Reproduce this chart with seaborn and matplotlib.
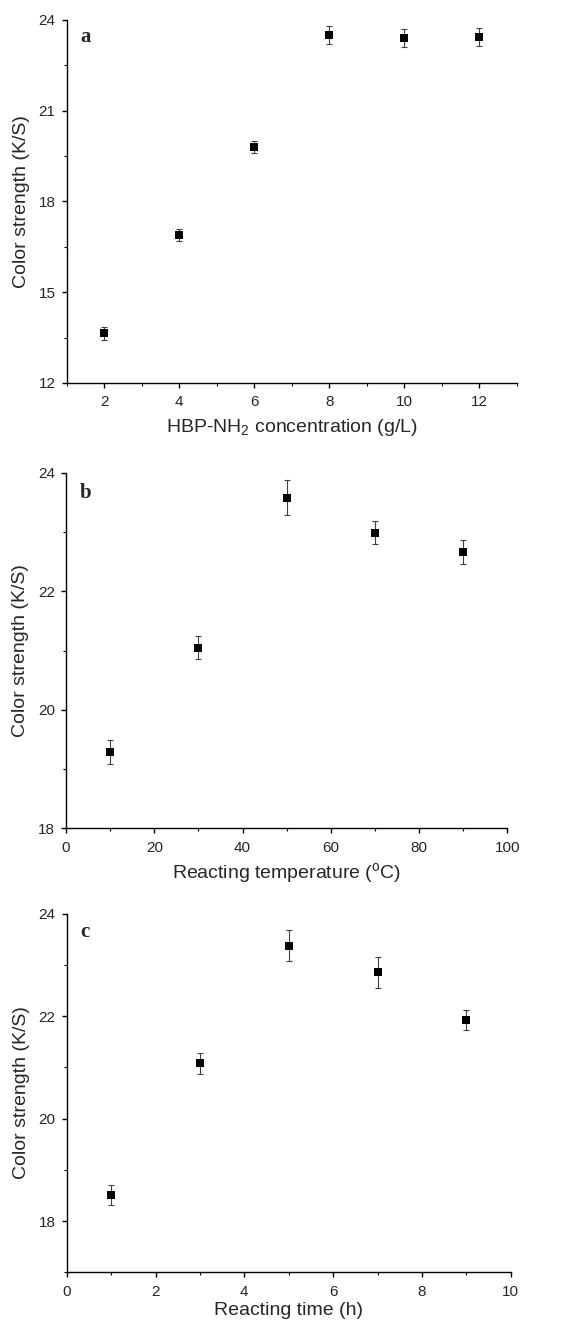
import matplotlib
matplotlib.use("Agg")
import matplotlib.pyplot as plt
from matplotlib.ticker import MultipleLocator
import seaborn as sns
import pandas as pd

# panel a - HBP-NH2 concentration
conc = [2, 4, 6, 8, 10, 12]
ks_conc = [13.64, 16.89, 19.80, 23.50, 23.40, 23.44]
err_conc = [0.21, 0.20, 0.20, 0.30, 0.30, 0.30]

# panel b - reacting temperature
temp = [10, 30, 50, 70, 90]
ks_temp = [19.29, 21.05, 23.58, 22.99, 22.66]
err_temp = [0.20, 0.20, 0.30, 0.20, 0.20]

# panel c - reacting time
rtime = [1, 3, 5, 7, 9]
ks_time = [18.51, 21.08, 23.38, 22.86, 21.93]
err_time = [0.20, 0.20, 0.30, 0.30, 0.20]

sns.set_style("ticks")
plt.rcParams["font.family"] = ["Liberation Sans", "DejaVu Sans"]
plt.rcParams["mathtext.fontset"] = "custom"
plt.rcParams["mathtext.rm"] = "Liberation Sans"
plt.rcParams["mathtext.it"] = "Liberation Sans:italic"
plt.rcParams["mathtext.bf"] = "Liberation Sans:bold"

W = 573.0
fig = plt.figure(figsize=(5.73, 13.26), dpi=100)

panels = [
    dict(pos=[0.1164, 0.7112, 0.7859, 0.2738], x=conc, y=ks_conc, e=err_conc,
         xlim=(1, 13), ylim=(12, 24), xmaj=2, xmin=1, ymaj=3, ymin=1.5,
         xlabel="HBP-NH$_2$ concentration (g/L)", letter="a", ly=0.953,
         lpad=5.5, ylx=30.5),
    dict(pos=[0.1152, 0.3753, 0.7702, 0.2682], x=temp, y=ks_temp, e=err_temp,
         xlim=(0, 100), ylim=(18, 24), xmaj=20, xmin=10, ymaj=2, ymin=1,
         xlabel="Reacting temperature ($^\\mathregular{o}$C)", letter="b", ly=0.943,
         lpad=4.5, ylx=29),
    dict(pos=[0.1164, 0.0405, 0.7749, 0.2704], x=rtime, y=ks_time, e=err_time,
         xlim=(0, 10), ylim=(17, 24), xmaj=2, xmin=1, ymaj=2, ymin=1,
         xlabel="Reacting time (h)", letter="c", ly=0.95,
         lpad=2.5, ylx=30),
]

for p in panels:
    ax = fig.add_axes(p["pos"])
    df = pd.DataFrame({"x": p["x"], "y": p["y"]})
    ax.errorbar(p["x"], p["y"], yerr=p["e"], fmt="none", ecolor="0.25",
                elinewidth=0.8, capsize=2.5, capthick=0.8, zorder=2)
    sns.scatterplot(data=df, x="x", y="y", marker="s", s=30, color="black",
                    edgecolor="black", linewidth=0, ax=ax, zorder=3)
    ax.set_xlim(p["xlim"])
    ax.set_ylim(p["ylim"])
    ax.xaxis.set_major_locator(MultipleLocator(p["xmaj"]))
    ax.xaxis.set_minor_locator(MultipleLocator(p["xmin"]))
    if p["letter"] == "c":
        ax.set_yticks([18, 20, 22, 24])
        ax.set_yticks([17, 19, 21, 23], minor=True)
    else:
        ax.yaxis.set_major_locator(MultipleLocator(p["ymaj"]))
        ax.yaxis.set_minor_locator(MultipleLocator(p["ymin"]))
    sns.despine(ax=ax)
    for s in ["left", "bottom"]:
        ax.spines[s].set_linewidth(1.0)
        ax.spines[s].set_color("black")
    ax.tick_params(which="major", direction="out", length=3.5, width=1.0,
                   labelsize=11, pad=5.5, color="black")
    ax.tick_params(which="minor", direction="out", length=2.2, width=0.8,
                   color="black")
    ax.tick_params(axis="y", which="major", pad=4.5)
    ax.set_xlabel(p["xlabel"], fontsize=14, labelpad=p["lpad"])
    ax.set_ylabel("Color strength (K/S)", fontsize=14)
    left_px = p["pos"][0] * W
    width_px = p["pos"][2] * W
    ax.yaxis.set_label_coords((p["ylx"] - left_px) / width_px, 0.5)
    ax.text(0.03, p["ly"], p["letter"], transform=ax.transAxes,
            family=["Liberation Serif", "DejaVu Serif"], fontweight="bold",
            fontsize=15, ha="left", va="center")

fig.savefig("out.png", dpi=100)
